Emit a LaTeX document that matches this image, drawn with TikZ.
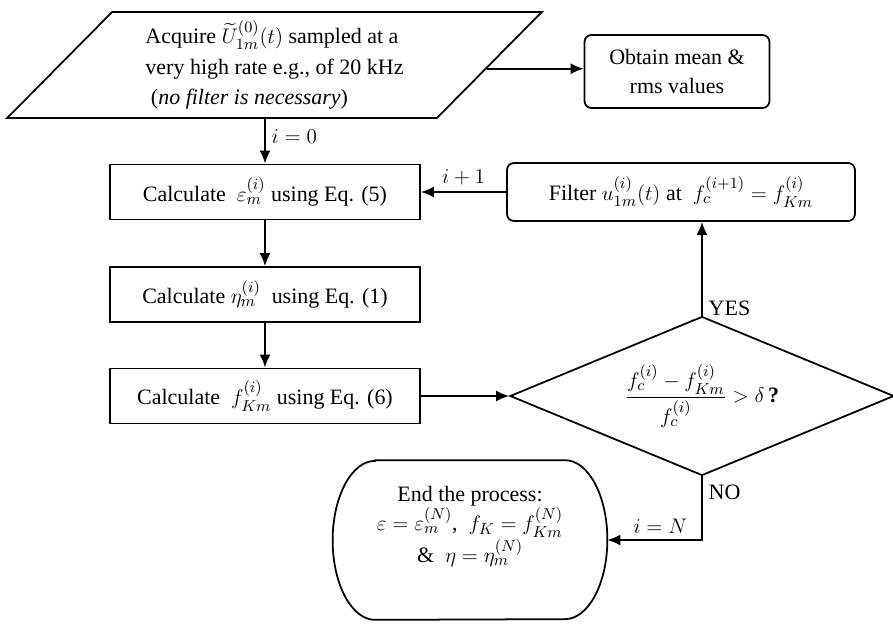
\documentclass[tikz,border=0pt]{standalone}
\usepackage{amsmath}
\usepackage{fontspec}
\setmainfont{Liberation Serif}
\usetikzlibrary{shapes.geometric, arrows.meta, positioning, calc}

\begin{document}
\begin{tikzpicture}[font=\fontsize{12.5}{16}\selectfont]
    \tikzstyle{calcbox}=[draw, line width=1pt, minimum width=6.2cm, minimum height=1.1cm]
    \tikzstyle{rbox}=[draw, line width=1pt, rounded corners=4pt, align=center]
    \tikzstyle{arr}=[-{Latex[length=2.6mm,width=2.2mm]}, line width=1pt]

    \useasboundingbox (0,0) rectangle (17.86,-12.46);

    \node[draw, line width=1pt, trapezium, trapezium left angle=47, trapezium right angle=133,
          trapezium stretches=true, minimum width=10.7cm, minimum height=2.12cm,
          align=left, inner sep=0pt, font=\fontsize{12.5}{17.5}\selectfont] (acq) at (5.49,-1.30)
          {Acquire $\widetilde{U}_{1m}^{(0)}(t)$ sampled at a\\
           very high rate e.g., of 20 kHz\\
           \ (\textit{no filter is necessary})};
    \node[rbox, minimum width=3.7cm, minimum height=1.46cm] (obtain) at (13.54,-1.43)
          {Obtain mean \&\\ rms values};

    \node[calcbox] (calceps) at (5.3,-3.84) {Calculate \ $\varepsilon_m^{(i)}$ using Eq. (5)};
    \node[calcbox] (calceta) at (5.3,-5.89) {Calculate $\eta_m^{(i)}$ \ using Eq. (1)};
    \node[calcbox] (calcfk)  at (5.3,-7.92) {Calculate \ $f_{Km}^{(i)}$ using Eq. (6)};

    \node[rbox, minimum width=6.96cm, minimum height=1.16cm] (filter) at (13.62,-3.84)
          {Filter $u_{1m}^{(i)}(t)$ at \ $f_c^{(i+1)} = f_{Km}^{(i)}$};

    \node[draw, line width=1pt, diamond, aspect=2.4, inner sep=1pt,
          minimum width=7.68cm, minimum height=3.18cm] (test) at (14.04,-7.92)
          {$\dfrac{f_c^{(i)} - f_{Km}^{(i)}}{f_c^{(i)}} > \delta\,$\textbf{?}};

    \node[minimum width=5.48cm, minimum height=3.18cm, align=center,
          font=\fontsize{12.5}{14}\selectfont] (finish) at (9.40,-10.80)
          {End the process:\\
           $\varepsilon = \varepsilon_m^{(N)}$, \ $f_K = f_{Km}^{(N)}$\\
           \& \ $\eta = \eta_m^{(N)}$\\[4pt]};
    % outline of the end box, with half-elliptic sides
    \draw[line width=1pt] ([xshift=0.85cm]finish.north west) -- ([xshift=-0.85cm]finish.north east)
          arc[start angle=90, end angle=-90, x radius=0.85cm, y radius=1.59cm]
          -- ([xshift=0.85cm]finish.south west)
          arc[start angle=270, end angle=90, x radius=0.85cm, y radius=1.59cm] -- cycle;

    \draw[arr] (acq.-1.8) -- (acq.-1.8 -| obtain.west);
    \draw[arr] (calceps.north |- acq.south) -- node[right, pos=0.4] {$i = 0$} (calceps.north);
    \draw[arr] (calceps) -- (calceta);
    \draw[arr] (calceta) -- (calcfk);
    \draw[arr] (calcfk) -- (test);
    \draw[arr] (test.north) -- node[right, pos=0.08] {YES} (test.north |- filter.south);
    \draw[arr] (filter) -- node[above] {$i + 1$} (calceps);
    \draw[arr] (test.south) |- node[right, pos=0.125] {NO}
          node[above, pos=0.72] {$i = N$} (finish.east);
\end{tikzpicture}
\end{document}
